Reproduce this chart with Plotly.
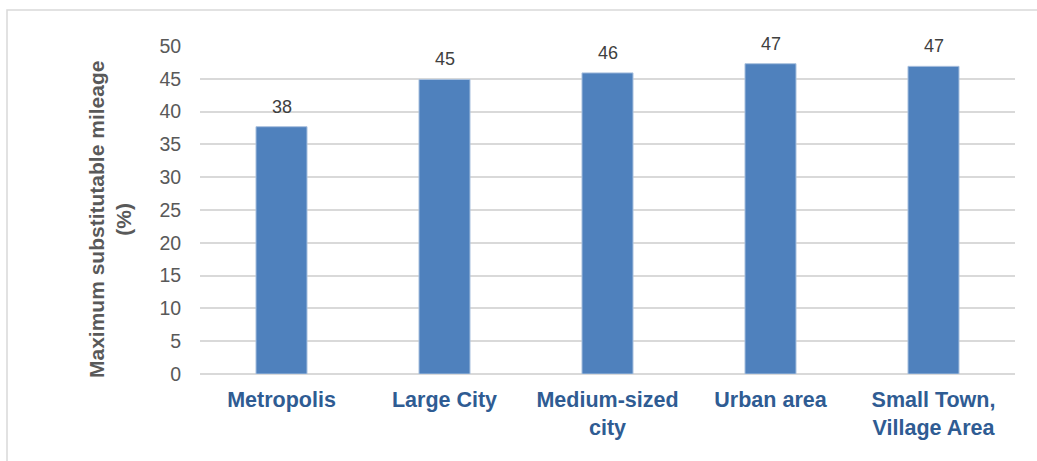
import plotly.graph_objects as go

categories = ["Metropolis", "Large City", "Medium-sized<br>city", "Urban area", "Small Town,<br>Village Area"]
values = [37.7, 44.9, 45.9, 47.3, 46.9]
y_ticks = [0, 5, 10, 15, 20, 25, 30, 35, 40, 45, 50]
y_title = "<b>Maximum substitutable mileage<br>(%)</b>"

W, H = 1037, 461
ML, MR, MT, MB = 200, 22, 46, 87
PW, PH = W - ML - MR, H - MT - MB

fig = go.Figure()
fig.add_trace(go.Bar(
    x=categories, y=values,
    marker=dict(color="#4F81BD", line=dict(color="#A9C0DE", width=1)),
    hoverinfo="x+y",
))

for c, v in zip(categories, values):
    fig.add_annotation(x=c, y=v, text=f"{round(v)}", showarrow=False,
                       yanchor="bottom", yshift=8,
                       font=dict(family="Liberation Sans, Arial", size=18, color="#404040"))

# y-axis title
fig.add_annotation(xref="paper", yref="paper", x=(110 - ML) / PW, y=(MT + PH - 220) / PH,
                   text=y_title, textangle=-90, showarrow=False,
                   xanchor="center", yanchor="middle",
                   font=dict(family="Liberation Sans, Arial", size=21, color="#595959"))

# chart-area border (extends beyond the cropped picture)
fig.add_shape(type="rect", xref="paper", yref="paper",
              x0=(7 - ML) / PW, x1=(W + 10 - ML) / PW,
              y0=(MT + PH - (H + 10)) / PH, y1=(MT + PH - 10) / PH,
              line=dict(color="#D9D9D9", width=1.5), fillcolor="rgba(0,0,0,0)", layer="below")

fig.update_layout(
    width=W, height=H,
    margin=dict(l=ML, r=MR, t=MT, b=MB),
    paper_bgcolor="white", plot_bgcolor="white",
    bargap=0.687,
    showlegend=False,
    font=dict(family="Liberation Sans, Arial", color="#595959"),
)
fig.update_xaxes(
    showline=False, showgrid=False,
    tickfont=dict(family="Liberation Sans, Arial", size=21.5, color="#2F5C93", weight="bold"),
    ticks="outside", ticklen=6, tickcolor="rgba(0,0,0,0)",
)
fig.update_yaxes(
    range=[0, 50], tickvals=y_ticks,
    showgrid=True, gridcolor="#D9D9D9", gridwidth=1.5,
    zeroline=True, zerolinecolor="#D9D9D9", zerolinewidth=1.5,
    showline=False,
    ticks="outside", ticklen=14, tickcolor="rgba(0,0,0,0)",
    tickfont=dict(family="Liberation Sans, Arial", size=19.5, color="#595959"),
)

fig.write_html("out.html")
